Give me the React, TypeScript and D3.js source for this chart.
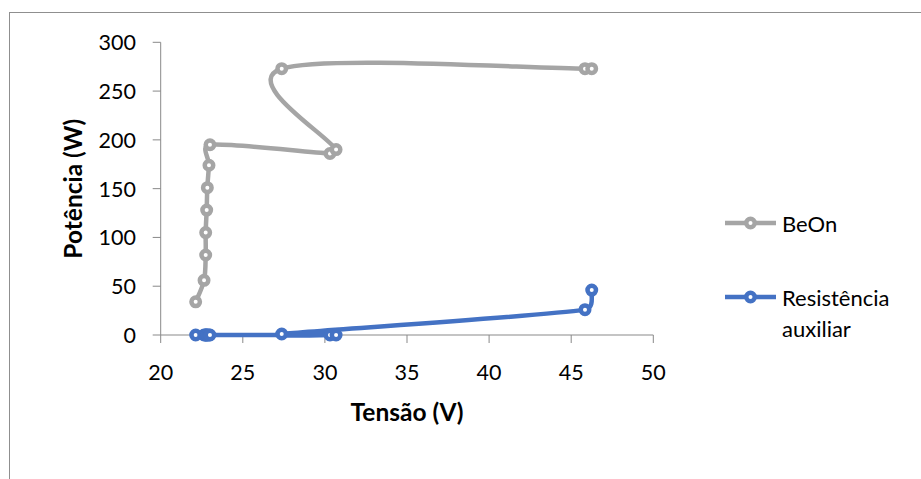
import React from "react";
import * as d3 from "d3";

const voltage = [22.13, 22.64, 22.74, 22.74, 22.8, 22.84, 22.94, 23.0, 30.31, 30.68, 27.37, 45.84, 46.25];
const beOnPower = [34, 56, 82, 105, 128, 151, 174, 195, 186, 190, 273, 273, 273];
const auxPower = [0, 0, 0, 0, 0, 0, 0, 0, 0, 0, 1, 26, 46];
const xTicks = [20, 25, 30, 35, 40, 45, 50];
const yTicks = [0, 50, 100, 150, 200, 250, 300];
const seriesNames = ["BeOn", "Resistência auxiliar"];
const seriesColors = ["#A5A5A5", "#4472C4"];

const W = 921;
const H = 479;
const FONT = "Lato, 'Open Sans', sans-serif";

// Excel-like smoothed line: cardinal spline (1/6) with control arms limited to half of the segment length
function smoothPath(pts: [number, number][]): string {
  const p = d3.path();
  const n = pts.length;
  if (n === 0) return "";
  p.moveTo(pts[0][0], pts[0][1]);
  const dist = (a: [number, number], b: [number, number]) => Math.hypot(b[0] - a[0], b[1] - a[1]);
  const tangent = (i: number): [number, number] => {
    const a = pts[Math.max(0, i - 1)];
    const b = pts[Math.min(n - 1, i + 1)];
    return [(b[0] - a[0]) / 6, (b[1] - a[1]) / 6];
  };
  for (let i = 0; i < n - 1; i++) {
    const a = pts[i];
    const b = pts[i + 1];
    const seg = dist(a, b);
    let ta = tangent(i);
    let tb = tangent(i + 1);
    const la = Math.hypot(ta[0], ta[1]);
    const lb = Math.hypot(tb[0], tb[1]);
    if (la > seg / 2 && la > 0) ta = [(ta[0] * seg) / 2 / la, (ta[1] * seg) / 2 / la];
    if (lb > seg / 2 && lb > 0) tb = [(tb[0] * seg) / 2 / lb, (tb[1] * seg) / 2 / lb];
    p.bezierCurveTo(a[0] + ta[0], a[1] + ta[1], b[0] - tb[0], b[1] - tb[1], b[0], b[1]);
  }
  return p.toString();
}

const MR = 4.25;
const MSW = 4.5;

export default function App() {
  const x = d3.scaleLinear().domain([20, 50]).range([160.7, 653.3]);
  const y = d3.scaleLinear().domain([0, 300]).range([335, 42.3]);

  const series = [beOnPower, auxPower].map((vals, i) => ({
    name: seriesNames[i],
    color: seriesColors[i],
    pts: vals.map((v, j) => [x(voltage[j]), y(v)] as [number, number]),
  }));

  const axisColor = "#898989";

  return (
    <div style={{ position: "fixed", left: 0, top: 0, width: W, height: H, background: "#fff" }}>
      <svg width={W} height={H} style={{ display: "block" }} fontFamily={FONT}>
        <rect x={9.5} y={12.5} width={1200} height={1200} fill="#fff" stroke="#8f8f8f" strokeWidth={1} />
        {/* axes */}
        <line x1={x(20)} x2={x(50)} y1={y(0)} y2={y(0)} stroke={axisColor} strokeWidth={1} />
        <line x1={x(20)} x2={x(20)} y1={y(300)} y2={y(0)} stroke={axisColor} strokeWidth={1} />
        {xTicks.map((t) => (
          <g key={"x" + t}>
            <line x1={x(t)} x2={x(t)} y1={y(0)} y2={y(0) + 8} stroke={axisColor} strokeWidth={1} />
            <text x={x(t)} y={372} textAnchor="middle" dominantBaseline="central" fontSize={21.5} fill="#000">
              {t}
            </text>
          </g>
        ))}
        {yTicks.map((t) => (
          <g key={"y" + t}>
            <line x1={x(20) - 8} x2={x(20)} y1={y(t)} y2={y(t)} stroke={axisColor} strokeWidth={1} />
            <text x={136} y={y(t)} textAnchor="end" dominantBaseline="central" fontSize={21.5} fill="#000">
              {t}
            </text>
          </g>
        ))}
        <text
          transform={`translate(72,${(y(0) + y(300)) / 2}) rotate(-90)`}
          textAnchor="middle"
          dominantBaseline="central"
          fontSize={24.5}
          fontWeight="bold"
          fill="#000"
        >
          Potência (W)
        </text>
        <text x={(x(20) + x(50)) / 2} y={411} textAnchor="middle" dominantBaseline="central" fontSize={24.5} fontWeight="bold" fill="#000">
          Tensão (V)
        </text>
        {/* series */}
        {series.map((s) => (
          <g key={s.name}>
            <path d={smoothPath(s.pts)} fill="none" stroke={s.color} strokeWidth={4.5} strokeLinejoin="round" strokeLinecap="round" />
            {s.pts.map((p, j) => (
              <circle key={j} cx={p[0]} cy={p[1]} r={MR} fill="#fff" stroke={s.color} strokeWidth={MSW} />
            ))}
          </g>
        ))}
        {/* legend */}
        <g>
          <line x1={725} x2={776} y1={223} y2={223} stroke={seriesColors[0]} strokeWidth={4.5} />
          <circle cx={750.5} cy={223} r={MR} fill="#fff" stroke={seriesColors[0]} strokeWidth={MSW} />
          <text x={782} y={223} dominantBaseline="central" fontSize={22} fill="#000">
            {seriesNames[0]}
          </text>
          <line x1={725} x2={776} y1={297} y2={297} stroke={seriesColors[1]} strokeWidth={4.5} />
          <circle cx={750.5} cy={297} r={MR} fill="#fff" stroke={seriesColors[1]} strokeWidth={MSW} />
          <text x={782} y={297} dominantBaseline="central" fontSize={22} fill="#000">
            {seriesNames[1].split(" ")[0]}
          </text>
          <text x={782} y={328} dominantBaseline="central" fontSize={22} fill="#000">
            {seriesNames[1].split(" ")[1]}
          </text>
        </g>
      </svg>
    </div>
  );
}
